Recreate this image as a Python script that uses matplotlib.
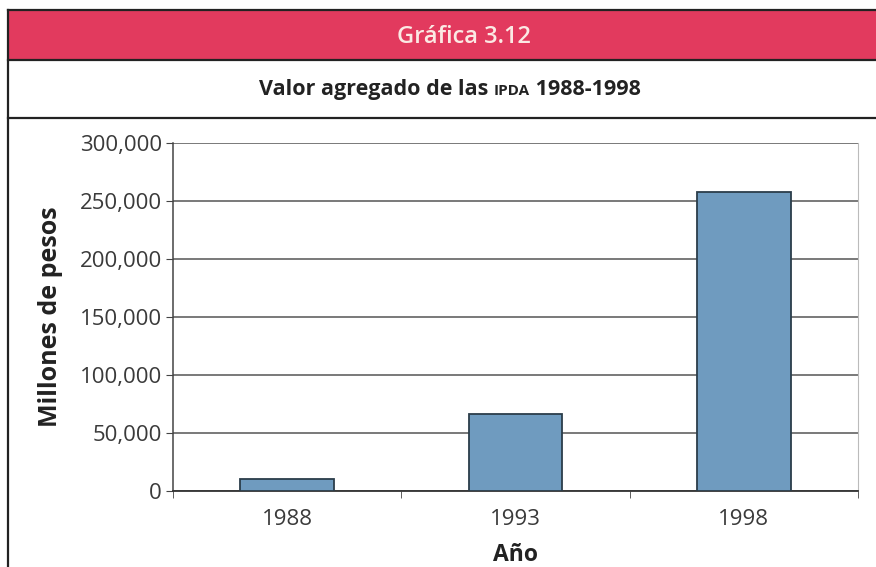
import matplotlib
matplotlib.use("Agg")
import matplotlib.pyplot as plt
from matplotlib.lines import Line2D
from matplotlib.patches import Rectangle
from matplotlib.ticker import FuncFormatter, MultipleLocator
import numpy as np

plt.rcParams['font.family'] = ['Open Sans', 'DejaVu Sans']

years = ["1988", "1993", "1998"]
values = [10500, 66000, 257500]
header_title = "Gráfica 3.12"
sub_parts = [("Valor agregado de las ", 15.5), ("IPDA", 11), (" 1988-1998", 15.5)]
ylabel = "Millones de pesos"
xlabel = "Año"

W, H = 876, 567
fig = plt.figure(figsize=(W / 100, H / 100), dpi=100)
fig.patch.set_facecolor("white")

def fx(px):
    return px / W

def fy(py):
    return 1 - py / H

# header band
fig.patches.append(Rectangle((fx(8), fy(60)), 1 - fx(8), fy(10) - fy(60),
                             transform=fig.transFigure, facecolor="#e23a5e",
                             edgecolor="none", zorder=0))
for y0 in (10, 60, 118):
    fig.lines.append(Line2D([fx(8), 1], [fy(y0), fy(y0)], transform=fig.transFigure,
                            color="#222222", lw=1.6))
fig.lines.append(Line2D([fx(8), fx(8)], [fy(10), 0], transform=fig.transFigure,
                        color="#222222", lw=1.6))
fig.text(fx(464), fy(37), header_title, color="#fbe9e4", fontsize=17,
         fontweight="semibold", ha="center", va="center")

# subtitle with small caps piece
fig.canvas.draw()
renderer = fig.canvas.get_renderer()
texts = []
for s, fs in sub_parts:
    t = fig.text(0, fy(95), s, fontsize=fs, fontweight="bold", color="#222222",
                 ha="left", va="baseline")
    texts.append(t)
widths = [t.get_window_extent(renderer).width for t in texts]
total = sum(widths)
x = 450 - total / 2
for t, w in zip(texts, widths):
    t.set_x(fx(x))
    x += w

ax = fig.add_axes([fx(173), fy(491), fx(858) - fx(173), fy(143) - fy(491)])
pos = np.arange(len(years))
ax.bar(pos, values, width=0.41, color="#6f9bbf", edgecolor="#2b3d4a",
       linewidth=1.3, zorder=3)
ax.set_xlim(-0.5, len(years) - 0.5)
ax.set_ylim(0, 300000)
ax.yaxis.set_major_locator(MultipleLocator(50000))
ax.yaxis.set_major_formatter(FuncFormatter(lambda v, p: f"{int(v):,}"))
ax.set_xticks(pos)
ax.set_xticklabels(years)
ax.set_xticks(np.arange(-0.5, len(years), 1), minor=True)
ax.tick_params(axis="x", which="major", length=0, labelsize=16, pad=13,
               labelcolor="#3a3a3a")
ax.tick_params(axis="x", which="minor", length=5, color="#444444", direction="out")
ax.tick_params(axis="y", length=5, labelsize=16, color="#444444", pad=3,
               labelcolor="#3a3a3a")
ax.grid(axis="y", color="#555555", lw=1.1, zorder=0)
ax.set_axisbelow(True)
ax.spines["top"].set_visible(False)
ax.spines["right"].set_color("#bbbbbb")
ax.spines["left"].set_color("#444444")
ax.spines["bottom"].set_color("#333333")
ax.spines["left"].set_linewidth(1.1)
ax.spines["bottom"].set_linewidth(1.3)
ax.set_ylabel(ylabel, fontsize=18, fontweight="bold", color="#222222", labelpad=12)
ax.set_xlabel(xlabel, fontsize=16.5, fontweight="bold", color="#222222", labelpad=9)

fig.savefig("out.png", dpi=100)
